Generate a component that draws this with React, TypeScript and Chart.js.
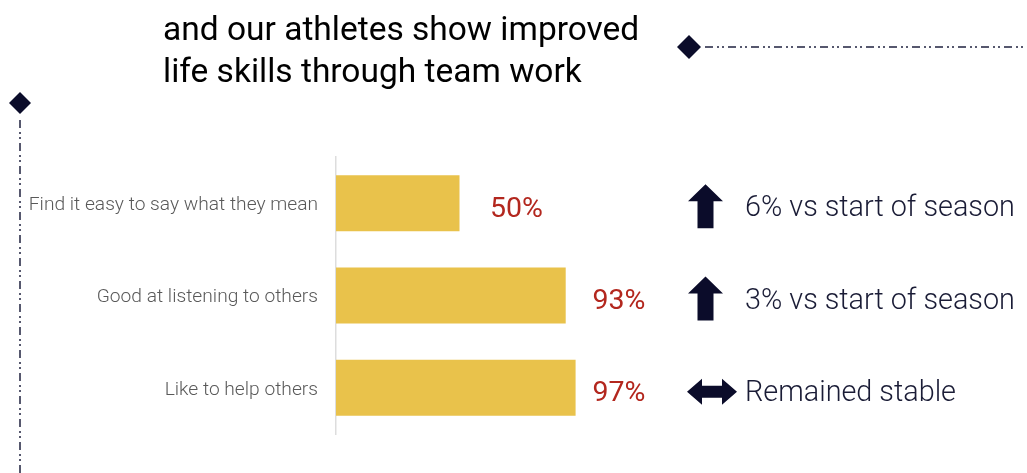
import React, { useEffect, useRef } from "react";
import { Chart, registerables } from "chart.js";

Chart.register(...registerables);

const titleLines = ["and our athletes show improved", "life skills through team work"];
const categories = [
  "Find it easy to say what they mean",
  "Good at listening to others",
  "Like to help others",
];
const values = [50, 93, 97];
const trendDirections = ["up", "up", "flat"];
const trendTexts = ["6% vs start of season", "3% vs start of season", "Remained stable"];

const BAR_COLOR = "#E9C24B";
const VALUE_COLOR = "#B3271E";
const NAVY = "#0B0C2A";
const TEXT_DARK = "#1A1C36";
const DASH_COLOR = "#56586E";

function dashLine(ctx: CanvasRenderingContext2D, x1: number, y1: number, x2: number, y2: number) {
  ctx.save();
  ctx.strokeStyle = DASH_COLOR;
  ctx.lineWidth = 2;
  ctx.setLineDash([8, 4, 2, 3, 2, 4]);
  ctx.beginPath();
  ctx.moveTo(x1, y1);
  ctx.lineTo(x2, y2);
  ctx.stroke();
  ctx.restore();
}

function diamond(ctx: CanvasRenderingContext2D, cx: number, cy: number, r: number) {
  ctx.save();
  ctx.fillStyle = NAVY;
  ctx.beginPath();
  ctx.moveTo(cx, cy - r);
  ctx.lineTo(cx + r, cy);
  ctx.lineTo(cx, cy + r);
  ctx.lineTo(cx - r, cy);
  ctx.closePath();
  ctx.fill();
  ctx.restore();
}

function upArrow(ctx: CanvasRenderingContext2D, cx: number, cy: number) {
  const top = cy - 22;
  const headBase = top + 17;
  const bottom = cy + 22;
  ctx.save();
  ctx.fillStyle = NAVY;
  ctx.beginPath();
  ctx.moveTo(cx, top);
  ctx.lineTo(cx + 17.5, headBase);
  ctx.lineTo(cx + 8, headBase);
  ctx.lineTo(cx + 8, bottom);
  ctx.lineTo(cx - 8, bottom);
  ctx.lineTo(cx - 8, headBase);
  ctx.lineTo(cx - 17.5, headBase);
  ctx.closePath();
  ctx.fill();
  ctx.restore();
}

function doubleArrow(ctx: CanvasRenderingContext2D, cx: number, cy: number) {
  const l = cx - 25;
  const r = cx + 25;
  const hl = 15;
  ctx.save();
  ctx.fillStyle = NAVY;
  ctx.beginPath();
  ctx.moveTo(l, cy);
  ctx.lineTo(l + hl, cy - 13);
  ctx.lineTo(l + hl, cy - 6);
  ctx.lineTo(r - hl, cy - 6);
  ctx.lineTo(r - hl, cy - 13);
  ctx.lineTo(r, cy);
  ctx.lineTo(r - hl, cy + 13);
  ctx.lineTo(r - hl, cy + 6);
  ctx.lineTo(l + hl, cy + 6);
  ctx.lineTo(l + hl, cy + 13);
  ctx.closePath();
  ctx.fill();
  ctx.restore();
}

const overlayPlugin = {
  id: "overlay",
  afterDraw(chart: any) {
    const ctx: CanvasRenderingContext2D = chart.ctx;
    const xs = chart.scales.x;
    const ys = chart.scales.y;
    ctx.save();
    // Title
    ctx.fillStyle = "#000000";
    ctx.font = "400 33.5px Roboto";
    ctx.textAlign = "left";
    ctx.textBaseline = "alphabetic";
    ctx.fillText(titleLines[0], 163, 40);
    ctx.fillText(titleLines[1], 163, 82);

    // decorations
    dashLine(ctx, 705, 47, 1027, 47);
    diamond(ctx, 689, 47, 12);
    dashLine(ctx, 20, 120, 20, 473);
    diamond(ctx, 20, 103, 11);

    values.forEach((v, i) => {
      const end = xs.getPixelForValue(v);
      const cy = ys.getPixelForValue(i);
      ctx.font = "400 28.5px Roboto";
      ctx.fillStyle = VALUE_COLOR;
      ctx.textAlign = "center";
      ctx.textBaseline = "alphabetic";
      const lx = Math.min(end + 57, chart.chartArea.right + 36);
      ctx.fillText(`${v}%`, lx, cy + 13.5);

      if (trendDirections[i] === "up") upArrow(ctx, 705.5, cy + 3);
      else doubleArrow(ctx, 712, cy + 4);

      ctx.font = "300 28.8px Roboto";
      ctx.fillStyle = TEXT_DARK;
      ctx.textAlign = "left";
      ctx.fillText(trendTexts[i], 745, cy + 13);
    });
    ctx.restore();
  },
};

export default function App() {
  const ref = useRef<HTMLCanvasElement | null>(null);
  useEffect(() => {
    document.body.style.margin = "0";
    const canvas = ref.current;
    if (!canvas) return;
    const chart = new Chart(canvas, {
      type: "bar",
      data: {
        labels: categories,
        datasets: [
          {
            data: values,
            backgroundColor: BAR_COLOR,
            borderWidth: 0,
            barPercentage: 0.607,
            categoryPercentage: 1,
          },
        ],
      },
      options: {
        indexAxis: "y",
        responsive: false,
        animation: false,
        devicePixelRatio: 1,
        layout: { padding: { left: 0, top: 157, bottom: 39, right: 444 } },
        plugins: {
          legend: { display: false },
          tooltip: { enabled: false },
          title: { display: false },
        },
        scales: {
          x: { min: 0, max: 100, display: false },
          y: {
            afterFit: (scale: any) => {
              scale.width = 336;
            },
            grid: { display: false, drawTicks: false },
            border: { display: true, color: "#DDDDDD", width: 1.5 },
            ticks: {
              padding: 18,
              labelOffset: 2,
              color: "#595959",
              font: { family: "Roboto", size: 19.2, weight: "300" },
            },
          },
        },
      },
      plugins: [overlayPlugin],
    } as any);
    return () => chart.destroy();
  }, []);
  return (
    <div style={{ width: 1027, height: 473, background: "#ffffff" }}>
      <canvas ref={ref} width={1027} height={473} style={{ display: "block" }} />
    </div>
  );
}
